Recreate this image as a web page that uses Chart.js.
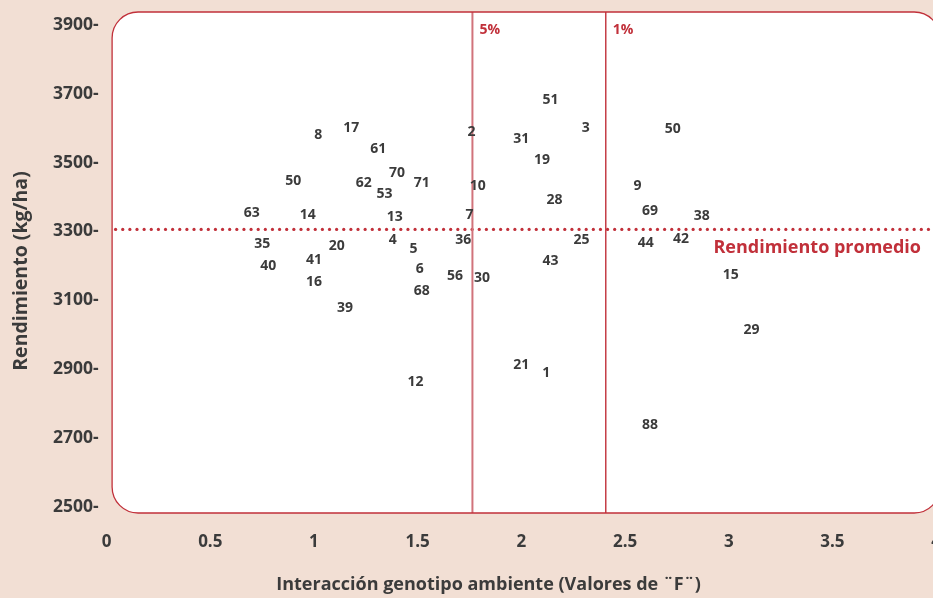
<!DOCTYPE html>
<html><head><meta charset="utf-8">
<script src="https://cdn.jsdelivr.net/npm/chart.js@4"></script>
<style>
html,body{margin:0;padding:0;background:#f2dfd4;overflow:hidden;width:933px;height:598px;}
#wrap{position:relative;width:960px;height:598px;}
canvas{display:block;}
</style></head><body>
<div id="wrap"><canvas id="c" width="960" height="598"></canvas></div>
<script>
// ---- data ----
const genotypes   = ['8','17','61','2','31','51','3','19','50','62','70','53','71','10','28','63','14','13','7','35','20','4','5','36','25','41','40','6','56','30','43','16','68','39','12','21','1','9','50','69','38','44','42','15','29','88'];
const interaction = [1.02,1.18,1.31,1.76,2.00,2.14,2.31,2.10,0.90,1.24,1.40,1.34,1.52,1.79,2.16,0.70,0.97,1.39,1.75,0.75,1.11,1.38,1.48,1.72,2.29,1.00,0.78,1.51,1.68,1.81,2.14,1.00,1.52,1.15,1.49,2.00,2.12,2.56,2.73,2.62,2.87,2.60,2.77,3.01,3.11,2.62];
const yieldKg     = [3580,3601,3540,3589,3569,3682,3601,3508,3447,3441,3470,3409,3441,3432,3391,3354,3348,3342,3348,3264,3258,3275,3249,3275,3275,3217,3200,3191,3171,3165,3214,3153,3127,3078,2862,2912,2889,3432,3598,3359,3345,3266,3278,3173,3014,2738];
const xTicks = [0,0.5,1,1.5,2,2.5,3,3.5,4];
const yTicks = [2500,2700,2900,3100,3300,3500,3700,3900];
const meanYield = 3306;
const thresholds = [1.764, 2.407];
const thresholdLabels = ['5%','1%'];

const RED = '#c1303a';
const TXT = '#3b3b3b';
const FONT = "'Open Sans', 'DejaVu Sans', sans-serif";

function boxRect(chart){
  const a = chart.chartArea;
  return {l: a.left + 5.5, r: a.right + 4, t: a.top, b: a.bottom};
}
function roundRectPath(ctx, l, t, r, b, rad){
  ctx.beginPath();
  ctx.moveTo(l + rad, t);
  ctx.lineTo(r - rad, t);
  ctx.arcTo(r, t, r, t + rad, rad);
  ctx.lineTo(r, b - rad);
  ctx.arcTo(r, b, r - rad, b, rad);
  ctx.lineTo(l + rad, b);
  ctx.arcTo(l, b, l, b - rad, rad);
  ctx.lineTo(l, t + rad);
  ctx.arcTo(l, t, l + rad, t, rad);
  ctx.closePath();
}

const decor = {
  id: 'decor',
  beforeDraw(chart){
    const ctx = chart.ctx;
    ctx.save();
    ctx.fillStyle = '#f2dfd4';
    ctx.fillRect(0, 0, chart.width, chart.height);
    const b = boxRect(chart);
    roundRectPath(ctx, b.l, b.t, b.r, b.b, 26);
    ctx.fillStyle = '#ffffff';
    ctx.fill();
    ctx.restore();
  },
  beforeDatasetsDraw(chart){
    const ctx = chart.ctx;
    const xs = chart.scales.x, ys = chart.scales.y;
    const b = boxRect(chart);
    ctx.save();
    roundRectPath(ctx, b.l, b.t, b.r, b.b, 26);
    ctx.clip();
    // mean dotted line
    const ym = ys.getPixelForValue(meanYield);
    ctx.fillStyle = RED;
    for (let px = b.l + 3.5; px < chart.width; px += 7.13){
      ctx.beginPath(); ctx.arc(px, ym, 1.6, 0, Math.PI*2); ctx.fill();
    }
    // threshold lines
    thresholds.forEach((t, i) => {
      const px = xs.getPixelForValue(t);
      ctx.beginPath();
      ctx.moveTo(px, b.t); ctx.lineTo(px, b.b);
      ctx.strokeStyle = i === 0 ? '#d1737b' : RED;
      ctx.lineWidth = i === 0 ? 2 : 1.4;
      ctx.stroke();
      ctx.fillStyle = RED;
      ctx.font = "bold 14px " + FONT;
      ctx.textAlign = 'left'; ctx.textBaseline = 'middle';
      ctx.fillText(thresholdLabels[i], px + 7, b.t + 18);
    });
    ctx.restore();
  },
  afterDatasetsDraw(chart){
    const ctx = chart.ctx;
    const ys = chart.scales.y;
    const b = boxRect(chart);
    ctx.save();
    // point labels
    const meta = chart.getDatasetMeta(0);
    ctx.fillStyle = TXT;
    ctx.font = "bold 14px " + FONT;
    ctx.textAlign = 'center'; ctx.textBaseline = 'middle';
    meta.data.forEach((el, i) => {
      ctx.fillText(genotypes[i], el.x, el.y);
    });
    // mean label
    ctx.fillStyle = RED;
    ctx.font = "bold 18px " + FONT;
    ctx.textAlign = 'right';
    ctx.fillText('Rendimiento promedio', 921, ys.getPixelForValue(meanYield) + 18);
    // box border
    roundRectPath(ctx, b.l, b.t, b.r, b.b, 26);
    ctx.strokeStyle = RED;
    ctx.lineWidth = 1.3;
    ctx.stroke();
    // axis titles
    ctx.fillStyle = TXT;
    ctx.font = "bold 18px " + FONT;
    ctx.textAlign = 'center';
    ctx.fillText('Interacción genotipo ambiente (Valores de ¨F¨)', 488.5, 585);
    ctx.save();
    ctx.translate(21, 271);
    ctx.rotate(-Math.PI / 2);
    ctx.font = "bold 19.5px " + FONT;
    ctx.fillText('Rendimiento (kg/ha)', 0, 0);
    ctx.restore();
    ctx.restore();
  }
};

const points = interaction.map((x, i) => ({x: x, y: yieldKg[i]}));

new Chart(document.getElementById('c'), {
  type: 'scatter',
  data: { datasets: [{ data: points, pointRadius: 0, pointHoverRadius: 0 }] },
  options: {
    responsive: false,
    animation: false,
    events: [],
    layout: { padding: { top: 12, right: 23.4, bottom: 0, left: 0 } },
    plugins: { legend: { display: false }, tooltip: { enabled: false } },
    scales: {
      x: {
        type: 'linear', min: 0, max: 4,
        grid: { display: false, drawTicks: false },
        border: { display: false },
        afterBuildTicks(s){ s.ticks = xTicks.map(v => ({value: v})); },
        afterFit(s){ s.height = 85; },
        ticks: {
          autoSkip: false, maxRotation: 0, padding: 19,
          color: TXT, font: { family: FONT, size: 17, weight: 'bold' },
          callback: v => String(v)
        }
      },
      y: {
        type: 'linear', min: 2481.7, max: 3937.8,
        grid: { display: false, drawTicks: false },
        border: { display: false },
        afterBuildTicks(s){ s.ticks = yTicks.map(v => ({value: v})); },
        afterFit(s){ s.width = 106.6; s.paddingTop = 0; s.paddingBottom = 0; },
        ticks: {
          autoSkip: false, padding: 8,
          color: TXT, font: { family: FONT, size: 17.5, weight: 'bold' },
          callback: v => v + '-'
        }
      }
    }
  },
  plugins: [decor]
});
</script>
</body></html>
